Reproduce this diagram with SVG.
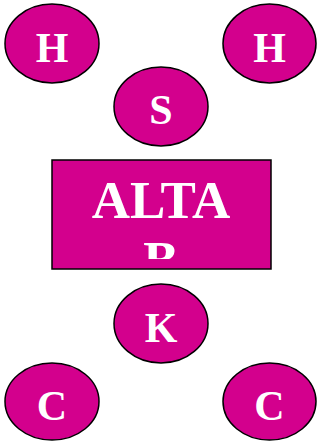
<svg xmlns="http://www.w3.org/2000/svg" width="320" height="442" viewBox="0 0 320 442">
<style>
.n{fill:#D3008D;stroke:#000;stroke-width:1.5}
.t{fill:#fff;font-family:"Liberation Serif",serif;font-weight:bold;text-anchor:middle}
.s{font-size:42px}
.b{font-size:53px}
</style>
<defs><clipPath id="rc"><rect x="52" y="160" width="219" height="99"/></clipPath></defs>
<rect width="320" height="442" fill="#fff"/>
<g id="connectors"/>
<g id="h1"><ellipse class="n" cx="52" cy="43.5" rx="47" ry="39.5"/><text class="t s" x="52" y="62">H</text></g>
<g id="h2"><ellipse class="n" cx="269.5" cy="43.5" rx="46.5" ry="39.5"/><text class="t s" x="269.5" y="62">H</text></g>
<g id="s"><ellipse class="n" cx="161" cy="106.5" rx="47" ry="39.5"/><text class="t s" x="161" y="124">S</text></g>
<g id="altab"><rect class="n" x="52" y="160" width="219" height="109"/><g clip-path="url(#rc)"><text class="t b" x="161" y="218">ALTA</text><text class="t b" x="161" y="278">B</text></g></g>
<g id="k"><ellipse class="n" cx="161" cy="323.5" rx="47" ry="39.5"/><text class="t s" x="161" y="342">K</text></g>
<g id="c1"><ellipse class="n" cx="52" cy="401.5" rx="47" ry="38.5"/><text class="t s" x="52" y="420">C</text></g>
<g id="c2"><ellipse class="n" cx="269.5" cy="401.5" rx="46.5" ry="38.5"/><text class="t s" x="269.5" y="420">C</text></g>
</svg>
